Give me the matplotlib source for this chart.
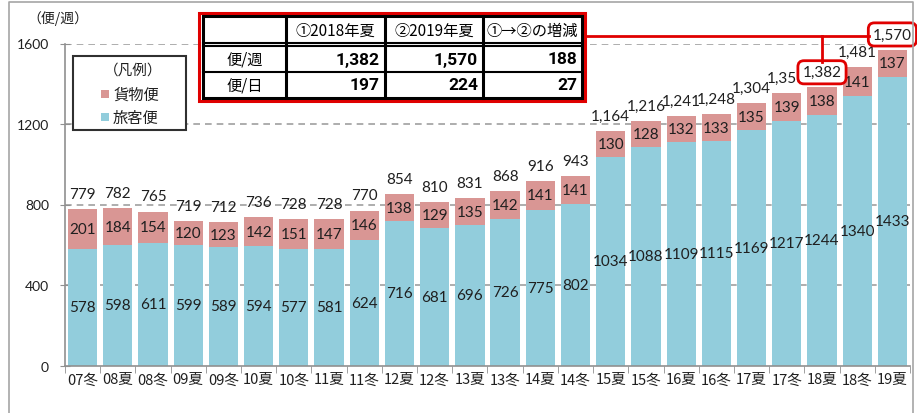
import matplotlib.pyplot as plt
from matplotlib.patches import Rectangle

# data
seasons = ['07冬', '08夏', '08冬', '09夏', '09冬', '10夏', '10冬', '11夏', '11冬', '12夏', '12冬', '13夏',
           '13冬', '14夏', '14冬', '15夏', '15冬', '16夏', '16冬', '17夏', '17冬', '18夏', '18冬', '19夏']
passenger = [578, 598, 611, 599, 589, 594, 577, 581, 624, 716, 681, 696,
             726, 775, 802, 1034, 1088, 1109, 1115, 1169, 1217, 1244, 1340, 1433]
cargo = [201, 184, 154, 120, 123, 142, 151, 147, 146, 138, 129, 135,
         142, 141, 141, 130, 128, 132, 133, 135, 139, 138, 141, 137]
totals = [779, 782, 765, 719, 712, 736, 728, 728, 770, 854, 810, 831,
          868, 916, 943, 1164, 1216, 1241, 1248, 1304, 1356, 1382, 1481, 1570]
highlight = ['18夏', '19夏']

table_cols = ['', '①2018年夏', '②2019年夏', '①→②の増減']
table_rows = ['便/週', '便/日']
table_vals = [[1382, 1570, 188], [197, 224, 27]]

blue = '#92CDDC'
pink = '#D99694'
txt = '#1f1f1f'
jp = 'Noto Sans CJK JP'
num_font = ['Lato', jp]
narrow = ['Roboto', jp]

W, H = 917, 414
fig = plt.figure(figsize=(W / 100, H / 100), dpi=100)

# main axes (pixel positions taken from reference)
x0, x1, ybot, ytop = 65, 910, 366.5, 44.5
ax = fig.add_axes([x0 / W, 1 - ybot / H, (x1 - x0) / W, (ybot - ytop) / H])
x = range(len(seasons))
ax.bar(x, passenger, width=0.83, color=blue, zorder=2)
ax.bar(x, cargo, bottom=passenger, width=0.83, color=pink, zorder=2)

for i in x:
    ax.text(i, passenger[i] / 2, str(passenger[i]), ha='center', va='center',
            fontsize=11, color=txt, family=num_font, zorder=3)
    ax.text(i, passenger[i] + cargo[i] / 2, str(cargo[i]), ha='center', va='center',
            fontsize=11, color=txt, family=num_font, zorder=3)
    lab = f'{totals[i]:,}'
    if seasons[i] in highlight:
        ax.text(i, totals[i] + 75, lab, ha='center', va='center', fontsize=11, color=txt,
                family=num_font, zorder=6,
                bbox=dict(boxstyle='round,pad=0.3,rounding_size=0.4', fc='white', ec='#E00000', lw=2))
    else:
        ax.text(i, totals[i] + 75, lab, ha='center', va='center', fontsize=11,
                color=txt, family=num_font, zorder=3)

ax.set_xlim(-0.5, len(seasons) - 0.5)
ax.set_ylim(0, 1600)
ax.set_yticks([0, 400, 800, 1200, 1600])
ax.set_yticklabels(['0', '400', '800', '1200', '1600'], family=num_font, fontsize=10, color=txt)
ax.set_xticks(list(x))
ax.set_xticklabels(seasons, family=jp, fontsize=10.5, color=txt)
ax.set_xticks([i - 0.5 for i in range(len(seasons) + 1)], minor=True)
ax.tick_params(axis='x', which='major', length=0, pad=5)
ax.tick_params(axis='x', which='minor', length=5, color='#909090', direction='out')
ax.tick_params(axis='y', length=7, direction='inout', color='#909090', pad=8)
for y in [400, 800, 1200, 1600]:
    ax.axhline(y, color='#A0A0A0', lw=1.2, ls=(0, (4, 3)), zorder=1)
for s in ['top', 'right']:
    ax.spines[s].set_visible(False)
ax.spines['left'].set_color('#909090')
ax.spines['bottom'].set_color('#909090')
ax.spines['left'].set_linewidth(1.2)
ax.spines['bottom'].set_linewidth(1.2)

# overlay in pixel coords for frame, legend, table and connectors
ov = fig.add_axes([0, 0, 1, 1], zorder=5)
ov.set_xlim(0, W)
ov.set_ylim(H, 0)
ov.axis('off')
ov.patch.set_alpha(0)

# outer frame
ov.plot([9, 9, 913, 913], [H + 5, 3, 3, H + 5], color='#A6A6A6', lw=1.2)

ov.text(27, 19, '（便/週）', ha='left', va='center', family=jp, fontsize=10, color=txt)

# legend
ov.add_patch(Rectangle((73, 57), 113, 74, fc='white', ec='#303030', lw=1.5))
ov.text(133, 71, '（凡例）', ha='center', va='center', family=jp, fontsize=10.5, color=txt)
for yy, c, lab in [(95, pink, '貨物便'), (118, blue, '旅客便')]:
    ov.add_patch(Rectangle((101, yy - 4), 8, 8, fc=c, ec='none'))
    ov.text(113, yy, lab, ha='left', va='center', family=jp, fontsize=11, color=txt)

# table
tx = [203, 286, 385, 483, 582]
ov.add_patch(Rectangle((199, 14), 386, 88, fc='white', ec='#E00000', lw=2.2))
ov.add_patch(Rectangle((203, 17), 379, 82, fc='none', ec='black', lw=2.2))
for xx in tx[1:-1]:
    ov.plot([xx, xx], [17, 99], color='black', lw=2.2)
ov.plot([203, 582], [43.5, 43.5], color='black', lw=1.5)
ov.plot([203, 582], [47, 47], color='black', lw=1.5)
ov.plot([203, 582], [73, 73], color='black', lw=1.5)
for j, c in enumerate(table_cols):
    if c:
        ov.text((tx[j] + tx[j + 1]) / 2, 31, c, ha='center', va='center',
                family=jp, fontsize=11, color='black')
row_y = [60, 86]
for r, name in enumerate(table_rows):
    ov.text((tx[0] + tx[1]) / 2, row_y[r], name, ha='center', va='center',
            family=jp, fontsize=11, color='black')
    for j, v in enumerate(table_vals[r]):
        ov.text(tx[j + 2] - 5, row_y[r], f'{v:,}', ha='right', va='center',
                family=narrow, fontsize=12.5, weight='bold', color='black')

# red connectors to highlighted labels
ov.plot([585, 869], [37, 37], color='#E00000', lw=2)
ov.plot([822, 822], [37, 63], color='#E00000', lw=2)

fig.savefig('out.png', dpi=100)
